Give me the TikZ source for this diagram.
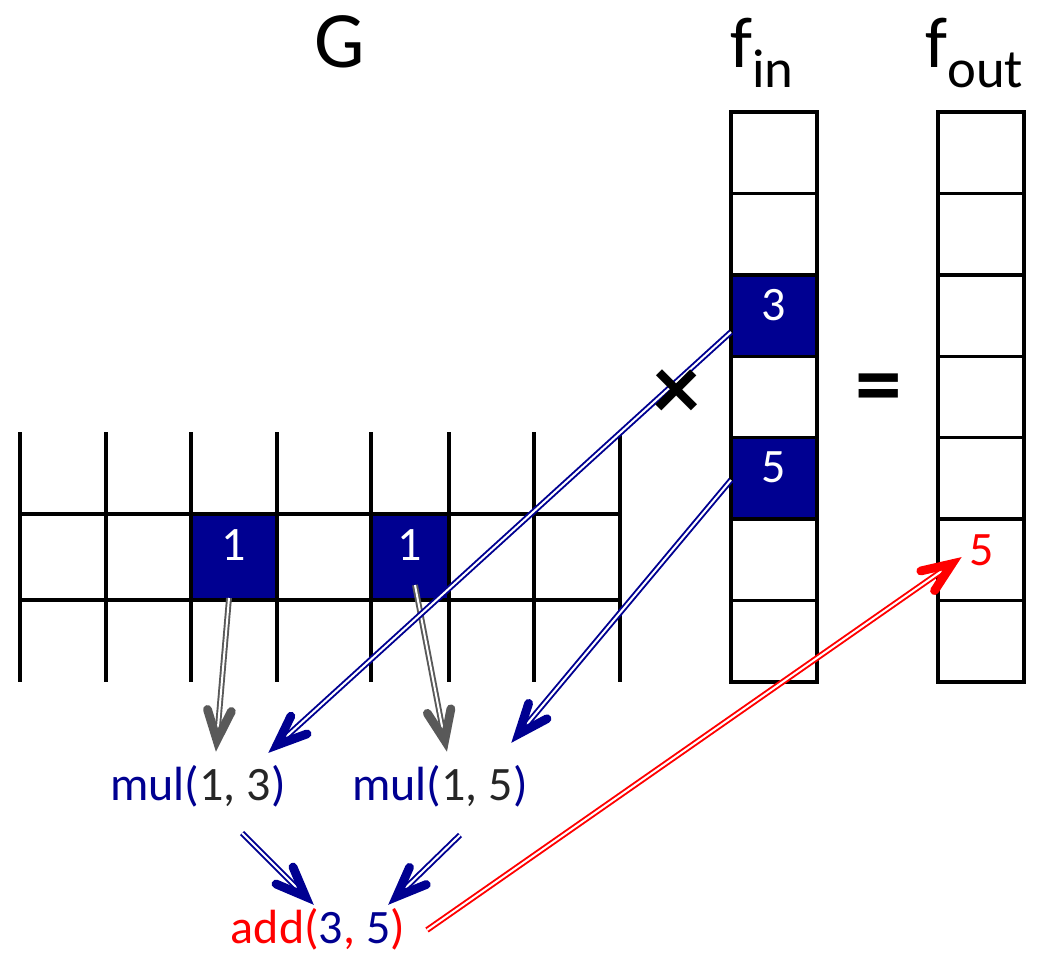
\documentclass[tikz,border=0pt]{standalone}
\usepackage{fontspec}
\setmainfont{Carlito}
\usetikzlibrary{calc}
\definecolor{navy}{RGB}{0,0,145}
\definecolor{dgray}{RGB}{89,89,89}
\definecolor{txtgray}{RGB}{38,38,38}
\newcommand\chevhead[3]{\draw[chev,#1] ($(#3)!24pt!22:(#2)$) -- (#3) -- ($(#3)!24pt!-22:(#2)$);}
\begin{document}
\begin{tikzpicture}[x=0.75pt,y=-0.75pt,
  gl/.style={line width=2.5pt, black},
  cellbox/.style={draw=black, line width=2.5pt, minimum width=64.5pt, minimum height=61.07pt, inner sep=0pt, outer sep=0pt},
  celltxt/.style={text=white, font=\fontsize{36}{40}\selectfont, inner sep=0pt},
  optxt/.style={font=\fontsize{36}{42}\selectfont, inner sep=0pt, anchor=base},
  dshaft/.style={line width=1.45pt, double=white, double distance=1.5pt},
  chev/.style={line width=6.6pt, line cap=round, line join=miter},
]
\useasboundingbox (0,0) rectangle (1046,954);
% titles
\node[anchor=base, inner sep=0pt, font=\fontsize{60}{66}\selectfont] (G) at (340,67) {G};
\node[anchor=base west, inner sep=0pt, font=\fontsize{54}{60}\selectfont] (finlbl) at (730,67) {f\raisebox{-15pt}{\fontsize{41}{46}\selectfont in}};
\node[anchor=base west, inner sep=0pt, font=\fontsize{54}{60}\selectfont] (foutlbl) at (925,67) {f\raisebox{-15pt}{\fontsize{41}{46}\selectfont out}};
% grid G
\foreach \x in {20,106,191,277,371,449,534,620} \draw[gl] (\x,432) -- (\x,682);
\draw[gl, line cap=rect] (20,514) -- (620,514);
\draw[gl, line cap=rect] (20,600) -- (620,600);
\node[cellbox, fill=navy, minimum width=64.5pt, minimum height=64.5pt] (g1) at (234,557) {};
\node[cellbox, fill=navy, minimum width=58.5pt, minimum height=64.5pt] (g2) at (410,557) {};
\node[celltxt] (g1t) at ($(g1.center)+(0,-12)$) {1};
\node[celltxt] (g2t) at ($(g2.center)+(0,-12)$) {1};
% vectors
\foreach \i/\f in {0/white,1/white,2/navy,3/white,4/navy,5/white,6/white}{
  \node[cellbox, fill=\f] (fin\i) at (774,{112+81.43*(\i+0.5)}) {};
  \node[cellbox] (fout\i) at (981,{112+81.43*(\i+0.5)}) {};
}
\node[celltxt] (fin2t) at ($(fin2.center)+(0,-10)$) {3};
\node[celltxt] (fin4t) at ($(fin4.center)+(0,-11)$) {5};
\node[celltxt, text=red] (fout5t) at ($(fout5.center)+(1,-10)$) {5};
% operations
\node[optxt, text=navy] (mul13) at (198,800) {mul(\textcolor{txtgray}{1, 3})};
\node[optxt, text=navy] (mul15) at (440,800) {mul(\textcolor{txtgray}{1, 5})};
\node[optxt, text=red] (add) at (318,943) {add(\textcolor{navy}{3}, \textcolor{navy}{5})};
% connector ends
\coordinate (s1) at (229,598);  \coordinate (v1) at (216.9,740);
\coordinate (s2) at (415,585);  \coordinate (v2) at (444.7,740.2);
\coordinate (s3) at (731,332);  \coordinate (v3) at (277,745);
\coordinate (s4) at (731,480);  \coordinate (v4) at (518.8,733.8);
\coordinate (s5) at (242,833);  \coordinate (v5) at (305.5,896.5);
\coordinate (s6) at (460,835);  \coordinate (v6) at (396.6,896.6);
\coordinate (s7) at (427,930);  \coordinate (v7) at (952,563.8);
\draw[dshaft, dgray, shorten >=2pt] (s1) -- (v1); \chevhead{dgray}{s1}{v1}
\draw[dshaft, dgray, shorten >=2pt] (s2) -- (v2); \chevhead{dgray}{s2}{v2}
\draw[dshaft, navy, shorten >=2pt] (s3) -- (v3); \chevhead{navy}{s3}{v3}
\draw[dshaft, navy, shorten >=2pt] (s4) -- (v4); \chevhead{navy}{s4}{v4}
\draw[dshaft, navy, shorten >=2pt] (s5) -- (v5); \chevhead{navy}{s5}{v5}
\draw[dshaft, navy, shorten >=2pt] (s6) -- (v6); \chevhead{navy}{s6}{v6}
\draw[dshaft, red, shorten >=2pt] (s7) -- (v7); \chevhead{red}{s7}{v7}
% operators
\node[inner sep=0pt, font=\fontsize{70}{76}\selectfont\bfseries] (times) at (677,395) {×};
\node[inner sep=0pt, font=\fontsize{70}{76}\selectfont\bfseries] (eq) at (879,395) {=};
\end{tikzpicture}
\end{document}
